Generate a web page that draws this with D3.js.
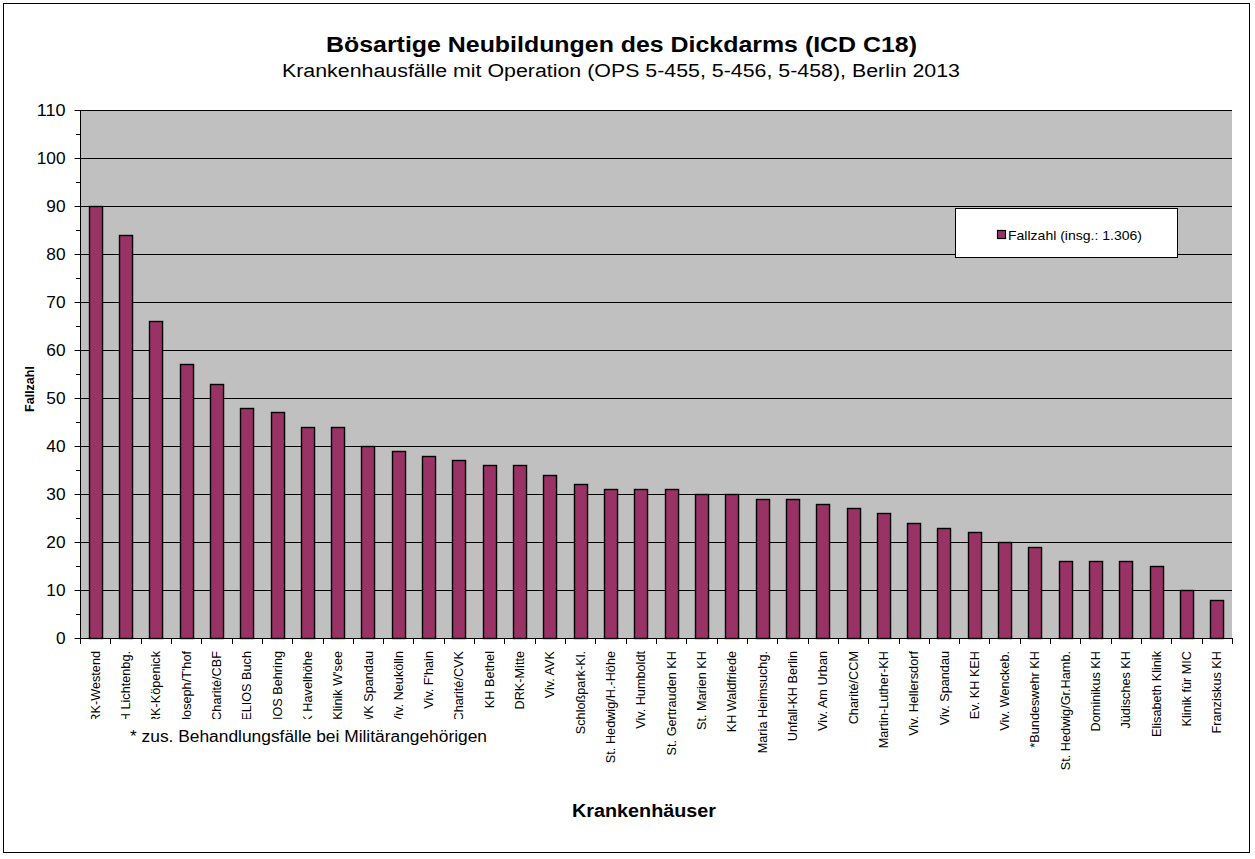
<!DOCTYPE html>
<meta charset="utf-8">
<style>
    body { margin: 0; background: #fff; }
    text { font-family: "Liberation Sans", Arial, sans-serif; fill: #000; }
</style>
<body>
<script src="https://d3js.org/d3.v7.min.js"></script>
<script>

const hospitals = [
    "DRK-Westend", "Sana KH Lichtenbg.", "DRK-Köpenick", "St. Joseph/T'hof", "Charité/CBF",
    "HELIOS Buch", "HELIOS Behring", "GK Havelhöhe", "Park-Klinik W'see", "EWK Spandau",
    "Viv. Neukölln", "Viv. F'hain", "Charité/CVK", "KH Bethel", "DRK-Mitte",
    "Viv. AVK", "Schloßpark-Kl.", "St. Hedwig/H.-Höhe", "Viv. Humboldt", "St. Gertrauden KH",
    "St. Marien KH", "KH Waldfriede", "Maria Heimsuchg.", "Unfall-KH Berlin", "Viv. Am Urban",
    "Charité/CCM", "Martin-Luther-KH", "Viv. Hellersdorf", "Viv. Spandau", "Ev. KH KEH",
    "Viv. Wenckeb.", "*Bundeswehr KH", "St. Hedwig/Gr.Hamb.", "Dominikus KH", "Jüdisches KH",
    "Elisabeth Klinik", "Klinik für MIC", "Franziskus KH"
];
const fallzahl = [
    90, 84, 66, 57, 53, 48, 47, 44, 44, 40,
    39, 38, 37, 36, 36, 34, 32, 31, 31, 31,
    30, 30, 29, 29, 28, 27, 26, 24, 23, 22,
    20, 19, 16, 16, 16, 15, 10, 8
];
const yTicks = [0, 10, 20, 30, 40, 50, 60, 70, 80, 90, 100, 110];
const legendLabel = "Fallzahl (insg.: 1.306)";

const width = 1255, height = 859;
const plot = { left: 80, right: 1232, top: 110, bottom: 638 };

const svg = d3.select("body").append("svg")
    .attr("width", width)
    .attr("height", height);

// outer frame
svg.append("rect")
    .attr("x", 3.5).attr("y", 3.5)
    .attr("width", 1246).attr("height", 849)
    .attr("fill", "#fff").attr("stroke", "#000");

const x = d3.scaleBand()
    .domain(hospitals)
    .range([plot.left, plot.right])
    .paddingInner(0.57)
    .paddingOuter(0.285);

const xTicks = d3.scaleBand().domain(hospitals).range([plot.left, plot.right]);

const y = d3.scaleLinear()
    .domain([0, 110])
    .range([plot.bottom, plot.top]);

// plot area
svg.append("rect")
    .attr("x", plot.left).attr("y", plot.top)
    .attr("width", plot.right - plot.left).attr("height", plot.bottom - plot.top)
    .attr("fill", "#c0c0c0");

// gridlines
svg.append("g").selectAll("line")
    .data(yTicks.slice(1))
    .join("line")
    .attr("x1", plot.left).attr("x2", plot.right)
    .attr("y1", d => Math.round(y(d)) + 0.5).attr("y2", d => Math.round(y(d)) + 0.5)
    .attr("stroke", "#000").attr("stroke-width", 1);

// bars
svg.append("g").selectAll("rect")
    .data(fallzahl)
    .join("rect")
    .attr("x", (d, i) => Math.round(x(hospitals[i])) + 0.5)
    .attr("y", d => Math.round(y(d)) + 0.5)
    .attr("width", x.bandwidth())
    .attr("height", d => Math.round(y(0)) - Math.round(y(d)))
    .attr("fill", "#993366")
    .attr("stroke", "#000")
    .attr("stroke-width", 1.4);

// y axis
const yAxis = svg.append("g")
    .attr("transform", `translate(${plot.left + 0.5},0)`)
    .call(d3.axisLeft(y).tickValues(yTicks).tickSize(6).tickPadding(9).tickFormat(d3.format("d")));
yAxis.select(".domain").attr("stroke", "#000").attr("d", `M0,${plot.top}V${plot.bottom}`);
yAxis.selectAll("text")
    .attr("font-size", 16.5)
    .attr("font-family", "Liberation Sans, Arial, sans-serif")
    .attr("fill", "#000")
    .attr("textLength", d => String(d).length * 9.6)
    .attr("lengthAdjust", "spacingAndGlyphs");

// minor y ticks
svg.append("g").selectAll("line")
    .data(d3.range(5, 110, 10))
    .join("line")
    .attr("x1", plot.left - 4).attr("x2", plot.left)
    .attr("y1", d => Math.round(y(d)) + 0.5).attr("y2", d => Math.round(y(d)) + 0.5)
    .attr("stroke", "#000");

// x axis line and ticks at band boundaries
svg.append("line")
    .attr("x1", plot.left).attr("x2", plot.right)
    .attr("y1", plot.bottom + 0.5).attr("y2", plot.bottom + 0.5)
    .attr("stroke", "#000");
svg.append("g").selectAll("line")
    .data(hospitals.map(h => xTicks(h)).concat([plot.right]))
    .join("line")
    .attr("x1", d => Math.round(d) + 0.5).attr("x2", d => Math.round(d) + 0.5)
    .attr("y1", plot.bottom).attr("y2", plot.bottom + 6)
    .attr("stroke", "#000");

// x labels
svg.append("g").selectAll("text")
    .data(hospitals)
    .join("text")
    .attr("transform", d => `translate(${xTicks(d) + xTicks.bandwidth() / 2 + 4.5},651) rotate(-90)`)
    .attr("text-anchor", "end")
    .attr("font-size", 12.7)
    .text(d => d);

// footnote box (covers the lower part of the long labels)
svg.append("rect")
    .attr("x", 84).attr("y", 719)
    .attr("width", 470).attr("height", 48)
    .attr("fill", "#fff");
svg.append("text")
    .attr("x", 130).attr("y", 742)
    .attr("font-size", 16)
    .attr("textLength", 357).attr("lengthAdjust", "spacingAndGlyphs")
    .text("* zus. Behandlungsfälle bei Militärangehörigen");

// titles
svg.append("text")
    .attr("x", 621.5).attr("y", 52)
    .attr("text-anchor", "middle")
    .attr("font-size", 22).attr("font-weight", "bold")
    .attr("textLength", 591).attr("lengthAdjust", "spacingAndGlyphs")
    .text("Bösartige Neubildungen des Dickdarms (ICD C18)");
svg.append("text")
    .attr("x", 621).attr("y", 77)
    .attr("text-anchor", "middle")
    .attr("font-size", 18)
    .attr("textLength", 678).attr("lengthAdjust", "spacingAndGlyphs")
    .text("Krankenhausfälle mit Operation (OPS 5-455, 5-456, 5-458), Berlin 2013");

svg.append("text")
    .attr("transform", "translate(34,389) rotate(-90)")
    .attr("text-anchor", "middle")
    .attr("font-size", 12.5).attr("font-weight", "bold")
    .text("Fallzahl");

svg.append("text")
    .attr("x", 644).attr("y", 817)
    .attr("text-anchor", "middle")
    .attr("font-size", 18).attr("font-weight", "bold")
    .attr("textLength", 144).attr("lengthAdjust", "spacingAndGlyphs")
    .text("Krankenhäuser");

// legend
const legend = svg.append("g").attr("transform", "translate(955,208)");
legend.append("rect")
    .attr("x", 0.5).attr("y", 0.5)
    .attr("width", 222).attr("height", 49)
    .attr("fill", "#fff").attr("stroke", "#000");
legend.append("rect")
    .attr("x", 42.5).attr("y", 22.5)
    .attr("width", 8).attr("height", 8)
    .attr("fill", "#993366").attr("stroke", "#000").attr("stroke-width", 1.2);
legend.append("text")
    .attr("x", 53).attr("y", 32)
    .attr("font-size", 13.5)
    .attr("textLength", 134).attr("lengthAdjust", "spacingAndGlyphs")
    .text(legendLabel);

</script>
</body>
</html>
